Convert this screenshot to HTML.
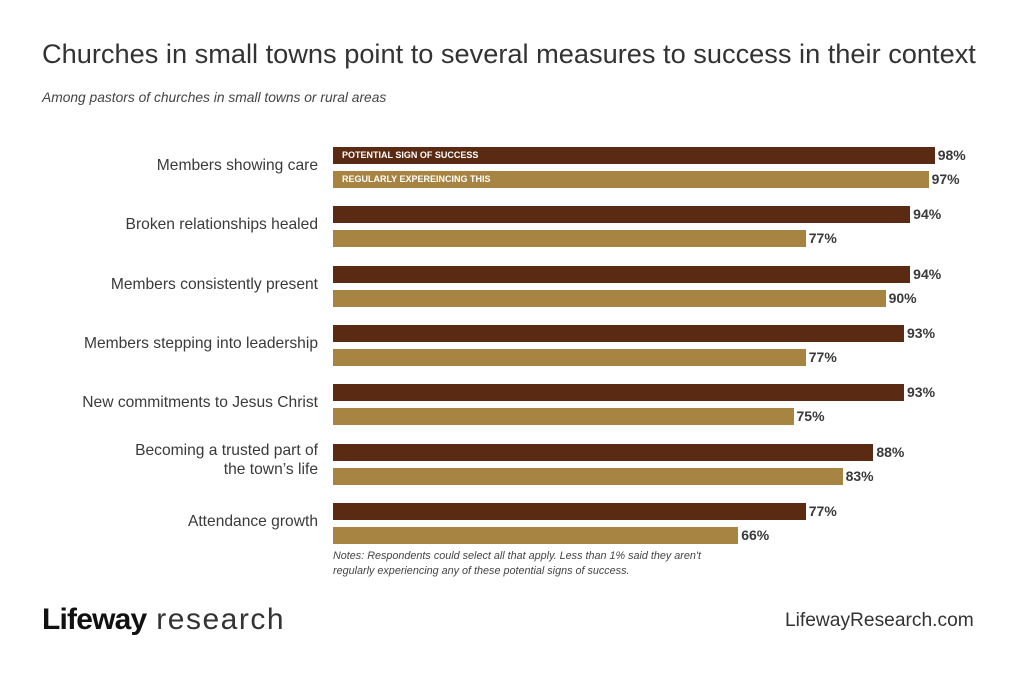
<!DOCTYPE html><html><head><style>
body{margin:0;width:1024px;height:683px;background:#fff;font-family:"Liberation Sans",sans-serif;position:relative;overflow:hidden;color:#333}
.a{position:absolute;white-space:nowrap}
.lab{position:absolute;right:706px;text-align:right;font-size:15.6px;color:#3a3a3a;line-height:19px}
.b{position:absolute;left:333px;height:17px}
.d{background:#5a2a12}.l{background:#a88442}
.v{position:absolute;font-size:14px;font-weight:bold;color:#3a3a3a;line-height:17px}
.in{position:absolute;left:342px;font-size:9px;font-weight:bold;color:#fff;line-height:17px}
</style></head><body>
<div class="a" style="left:42px;top:38px;font-size:27.2px;color:#333">Churches in small towns point to several measures to success in their context</div>
<div class="a" style="left:42px;top:90px;font-size:13.8px;font-style:italic;color:#444">Among pastors of churches in small towns or rural areas</div>
<div id="c"></div>
<div class="in" style="top:147px">POTENTIAL SIGN OF SUCCESS</div>
<div class="in" style="top:171px">REGULARLY EXPEREINCING THIS</div>
<div class="a" style="left:333px;top:549px;font-size:10.8px;font-style:italic;color:#444;line-height:15px">Notes: Respondents could select all that apply. Less than 1% said they aren't<br>regularly experiencing any of these potential signs of success.</div>
<div class="a" style="left:42px;top:603px;font-size:30px;color:#111"><b style="letter-spacing:-0.8px">Lifeway</b><span style="color:#333;letter-spacing:1.5px"> research</span></div>
<div class="a" style="left:785px;top:610px;font-size:19.2px;color:#333">LifewayResearch.com</div>
<script>
var d=[["Members showing care",98,97],["Broken relationships healed",94,77],["Members consistently present",94,90],["Members stepping into leadership",93,77],["New commitments to Jesus Christ",93,75],["Becoming a trusted part of<br>the town’s life",88,83],["Attendance growth",77,66]];
var h="";d.forEach(function(r,i){var y=147+i*59.3;var two=r[0].indexOf("<br>")>0;
h+='<div class="lab" style="top:'+(y+(two?-3:9))+'px">'+r[0]+'</div>';
[r[1],r[2]].forEach(function(v,j){var w=v*6.14,t=y+j*24;
h+='<div class="b '+(j?'l':'d')+'" style="top:'+t+'px;width:'+w+'px"></div><div class="v" style="left:'+(333+w+3)+'px;top:'+t+'px">'+v+'%</div>';});});
document.getElementById("c").innerHTML=h;
</script></body></html>
